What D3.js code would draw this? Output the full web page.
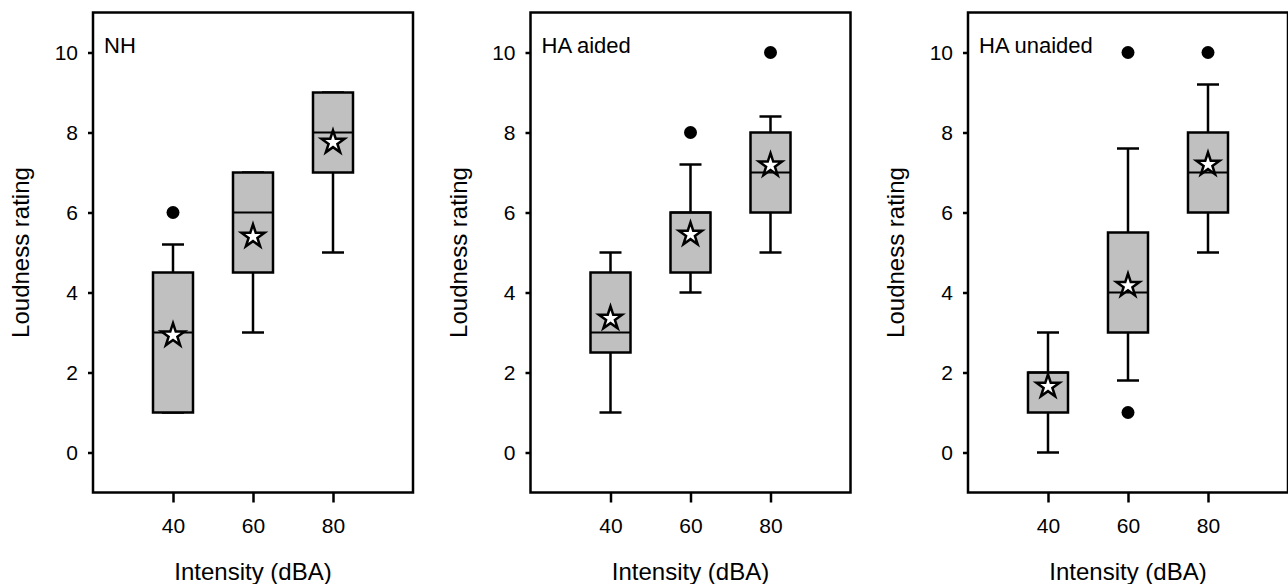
<!DOCTYPE html>
<html>
<head>
<meta charset="utf-8">
<script src="https://cdn.jsdelivr.net/npm/d3@7"></script>
<style>
  body { margin: 0; background: #fff; }
  text { font-family: "Liberation Sans", Arial, sans-serif; fill: #000; }
</style>
</head>
<body>
<div id="chart"></div>
<script>
// panel names and x categories
const groups = ["NH", "HA aided", "HA unaided"];
const intensities = [40, 60, 80];

// box plot stats, one row per panel, one value per intensity
const whiskerLow  = [[1, 3, 5], [1, 4, 5], [0, 1.8, 5]];
const q1          = [[1, 4.5, 7], [2.5, 4.5, 6], [1, 3, 6]];
const median      = [[3, 6, 8], [3, 6, 7], [2, 4, 7]];
const q3          = [[4.5, 7, 9], [4.5, 6, 8], [2, 5.5, 8]];
const whiskerHigh = [[5.2, 7, 9], [5, 7.2, 8.4], [3, 7.6, 9.2]];
const means       = [[2.93, 5.4, 7.75], [3.35, 5.45, 7.18], [1.65, 4.17, 7.2]];
const outliers    = [[[6], [], []], [[], [8], [10]], [[], [10, 1], [10]]];

const yTicks = [0, 2, 4, 6, 8, 10];
const xTicks = [40, 60, 80];

const width = 1288, height = 584;
const panelW = 320, panelH = 480;
const panelLeft = 93, panelStep = 437.5, panelTop = 12.5;
const sw = 2.5;

const svg = d3.select("#chart")
    .append("svg")
    .attr("width", width)
    .attr("height", height);

const x = d3.scaleLinear().domain([20, 100]).range([0, panelW]);
const y = d3.scaleLinear().domain([-1, 11]).range([panelH, 0]);

const boxHalf = 5;     // in dBA units
const capHalf = 2.75;

const star = d3.symbol().type(d3.symbolStar).size(165);

groups.forEach((name, p) => {
    const g = svg.append("g")
        .attr("transform", `translate(${panelLeft + p * panelStep},${panelTop})`);

    const stats = intensities.map((v, i) => ({
        x: v,
        lo: whiskerLow[p][i],
        q1: q1[p][i],
        med: median[p][i],
        q3: q3[p][i],
        hi: whiskerHigh[p][i],
        mean: means[p][i],
        out: outliers[p][i]
    }));

    // axes
    const yAxis = g.append("g")
        .call(d3.axisLeft(y).tickValues(yTicks).tickSize(5).tickPadding(10));
    const xAxis = g.append("g")
        .attr("transform", `translate(0,${panelH})`)
        .call(d3.axisBottom(x).tickValues(xTicks).tickSize(10).tickPadding(16));
    [yAxis, xAxis].forEach(a => {
        a.select(".domain").remove();
        a.selectAll(".tick line").attr("stroke", "#000").attr("stroke-width", sw);
        a.selectAll(".tick text")
            .style("font-family", "'Liberation Sans', Arial, sans-serif")
            .style("font-size", "21px");
    });

    // whiskers
    const box = g.selectAll(".box")
        .data(stats)
        .enter().append("g")
        .attr("class", "box");

    box.append("line")
        .attr("x1", d => x(d.x)).attr("x2", d => x(d.x))
        .attr("y1", d => y(d.lo)).attr("y2", d => y(d.hi))
        .attr("stroke", "#000").attr("stroke-width", sw);
    box.append("line")
        .attr("x1", d => x(d.x - capHalf)).attr("x2", d => x(d.x + capHalf))
        .attr("y1", d => y(d.lo)).attr("y2", d => y(d.lo))
        .attr("stroke", "#000").attr("stroke-width", sw);
    box.append("line")
        .attr("x1", d => x(d.x - capHalf)).attr("x2", d => x(d.x + capHalf))
        .attr("y1", d => y(d.hi)).attr("y2", d => y(d.hi))
        .attr("stroke", "#000").attr("stroke-width", sw);

    // boxes
    box.append("rect")
        .attr("x", d => x(d.x - boxHalf))
        .attr("width", d => x(d.x + boxHalf) - x(d.x - boxHalf))
        .attr("y", d => y(d.q3))
        .attr("height", d => y(d.q1) - y(d.q3))
        .attr("fill", "#c0c0c0")
        .attr("stroke", "#000").attr("stroke-width", sw);
    box.append("line")
        .attr("x1", d => x(d.x - boxHalf)).attr("x2", d => x(d.x + boxHalf))
        .attr("y1", d => y(d.med)).attr("y2", d => y(d.med))
        .attr("stroke", "#000").attr("stroke-width", 2);

    // outliers
    box.selectAll(".out")
        .data(d => d.out.map(v => ({ x: d.x, v })))
        .enter().append("circle")
        .attr("class", "out")
        .attr("cx", d => x(d.x))
        .attr("cy", d => y(d.v))
        .attr("r", 6.5)
        .attr("fill", "#000");

    // means
    box.append("path")
        .attr("d", star)
        .attr("transform", d => `translate(${x(d.x)},${y(d.mean)})`)
        .attr("fill", "#fff")
        .attr("stroke", "#000")
        .attr("stroke-width", sw)
        .attr("stroke-linejoin", "miter");

    // frame
    g.append("rect")
        .attr("width", panelW)
        .attr("height", panelH)
        .attr("fill", "none")
        .attr("stroke", "#000")
        .attr("stroke-width", sw);

    // panel label
    g.append("text")
        .attr("x", 11)
        .attr("y", 40)
        .style("font-size", "22px")
        .text(name);

    // axis titles
    g.append("text")
        .attr("transform", `translate(-64,${panelH / 2}) rotate(-90)`)
        .attr("text-anchor", "middle")
        .style("font-size", "24px")
        .text("Loudness rating");
    g.append("text")
        .attr("x", panelW / 2)
        .attr("y", 567.5)
        .attr("text-anchor", "middle")
        .style("font-size", "24px")
        .text("Intensity (dBA)");
});
</script>
</body>
</html>
